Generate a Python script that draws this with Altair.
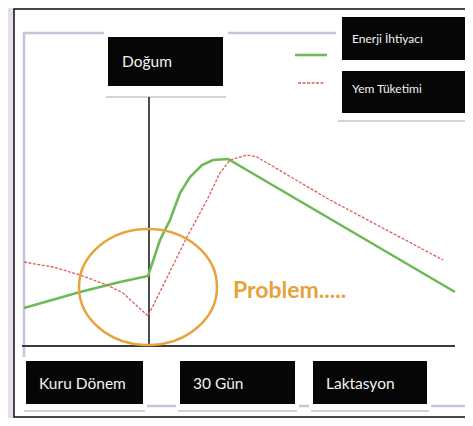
import altair as alt
import pandas as pd

# ---- data (time relative to calving, level above baseline) ----
series_names = ["Enerji İhtiyacı", "Yem Tüketimi"]
energy_t = [-125, -69, -29, -1, 11, 21, 31, 41, 53, 64, 79, 306]
energy_lvl = [38, 54, 64, 70, 106, 126, 153, 169, 181, 186, 187, 54]
feed_t = [-125, -96, -69, -42, -26, -1, 38, 58, 71, 81, 98, 108, 181, 294]
feed_lvl = [84, 79, 71, 61, 53, 30, 109, 146, 173, 186, 191, 189, 146, 86]

box_labels = ["Doğum", "Kuru Dönem", "30 Gün", "Laktasyon"]
problem_label = "Problem....."

# ---- layout helpers (reference pixel -> chart units) ----
CALV = 149
BASE = 346
def X(px):
    return px - CALV
def L(py):
    return BASE - py

W, H = 457, 410
xs = alt.Scale(domain=[X(8), X(465)], nice=False, zero=False)
ys = alt.Scale(domain=[L(418), L(8)], nice=False, zero=False)
FONT = "Lato, Roboto, sans-serif"

def rects(rows):
    return pd.DataFrame([{"x": X(a), "x2": X(b), "y": L(c), "y2": L(d)} for a, b, c, d in rows])

def rect_layer(rows, fill, stroke=None, sw=0, opacity=1):
    kw = dict(fill=fill, clip=True, fillOpacity=opacity)
    if stroke:
        kw.update(stroke=stroke, strokeWidth=sw)
    return alt.Chart(rects(rows)).mark_rect(**kw).encode(
        x=alt.X("x:Q", scale=xs, axis=None), x2="x2",
        y=alt.Y("y:Q", scale=ys, axis=None), y2="y2")

def hline_layer(rows, color, sw, dash=None):
    df = pd.DataFrame([{"x": X(a), "x2": X(b), "y": L(c)} for a, b, c in rows])
    kw = dict(color=color, strokeWidth=sw, clip=True)
    if dash:
        kw["strokeDash"] = dash
    return alt.Chart(df).mark_rule(**kw).encode(
        x=alt.X("x:Q", scale=xs, axis=None), x2="x2",
        y=alt.Y("y:Q", scale=ys, axis=None))

frame = rect_layer([(14, 490, 9, 417)], "white", "#111111", 1.5)
inner = alt.Chart(rects([(24, 490, 33, 406)])).mark_rect(
    fill="white", fillOpacity=0, stroke="#C6C4DA", strokeWidth=2.5, clip=True).encode(
    x=alt.X("x:Q", scale=xs, axis=None), x2="x2",
    y=alt.Y("y:Q", scale=ys, axis=None), y2="y2")

halos = rect_layer([(104, 228, 29, 96), (336, 490, 11, 119),
                    (22, 147, 357, 409), (176, 299, 357, 409), (309, 431, 357, 409)], "white")
shadows = hline_layer([(106, 226, 97), (338, 490, 121),
                       (24, 145, 411), (178, 297, 411), (311, 429, 411)], "#C4C4C4", 1.5)

boxes = rect_layer([(108, 223, 37, 86), (342, 490, 17, 60), (342, 490, 71, 113),
                    (26, 143, 361, 404), (180, 295, 361, 404), (313, 427, 361, 404)], "#060606")

axis_line = hline_layer([(22, 455, BASE)], "#3A3A3A", 2)
vline = alt.Chart(pd.DataFrame({"x": [X(CALV)], "y": [L(97)], "y2": [L(BASE)]})).mark_rule(
    color="#111111", strokeWidth=1.5).encode(
    x=alt.X("x:Q", scale=xs, axis=None),
    y=alt.Y("y:Q", scale=ys, axis=None), y2="y2")

energy_df = pd.DataFrame({"t": energy_t, "lvl": energy_lvl, "s": series_names[0]})
feed_df = pd.DataFrame({"t": feed_t, "lvl": feed_lvl, "s": series_names[1]})

energy_line = alt.Chart(energy_df).mark_line(color="#6DBA55", strokeWidth=2.6).encode(
    x=alt.X("t:Q", scale=xs, axis=None), y=alt.Y("lvl:Q", scale=ys, axis=None), order="t:Q")
feed_line = alt.Chart(feed_df).mark_line(color="#DD5C5C", strokeWidth=1.3, strokeDash=[3, 1.5]).encode(
    x=alt.X("t:Q", scale=xs, axis=None), y=alt.Y("lvl:Q", scale=ys, axis=None), order="t:Q")

leg_green = hline_layer([(295, 327, 55)], "#6DBA55", 2.6)
leg_red = hline_layer([(298, 325, 83)], "#DD5C5C", 1.3, [3, 1.5])

ellipse = alt.Chart(pd.DataFrame({"x": [X(148)], "y": [L(287)]})).mark_point(
    shape="M -1 0 A 1 0.84 0 1 0 1 0 A 1 0.84 0 1 0 -1 0 Z",
    size=(2 * 69) ** 2, filled=False, stroke="#E8A33C", strokeWidth=2.5, opacity=1).encode(
    x=alt.X("x:Q", scale=xs, axis=None), y=alt.Y("y:Q", scale=ys, axis=None))

def text_layer(rows, size, color="#F2F2F2", weight="normal", baseline="middle"):
    df = pd.DataFrame([{"x": X(a), "y": L(b), "label": t} for a, b, t in rows])
    return alt.Chart(df).mark_text(align="left", baseline=baseline, font=FONT,
                                   fontSize=size, color=color, fontWeight=weight).encode(
        x=alt.X("x:Q", scale=xs, axis=None), y=alt.Y("y:Q", scale=ys, axis=None), text="label:N")

box_text = text_layer([(122, 62, box_labels[0]), (39, 384, box_labels[1]),
                       (193, 384, box_labels[2]), (326, 384, box_labels[3])], 15.5)
legend_text = text_layer([(352, 39, series_names[0]), (352, 89, series_names[1])], 12)
problem_text = text_layer([(233, 298, problem_label)], 23, color="#E8A23A", weight="bold",
                          baseline="alphabetic")

chart = alt.layer(
    frame, inner, halos, shadows, boxes, axis_line, vline,
    energy_line, feed_line, leg_green, leg_red, ellipse,
    box_text, legend_text, problem_text
).properties(
    width=W, height=H, background="#E7DEED", padding=0,
    autosize=alt.AutoSizeParams(type="none")
).configure_view(stroke=None)

chart.save("out.html", embed_options={"renderer": "svg", "actions": False})
